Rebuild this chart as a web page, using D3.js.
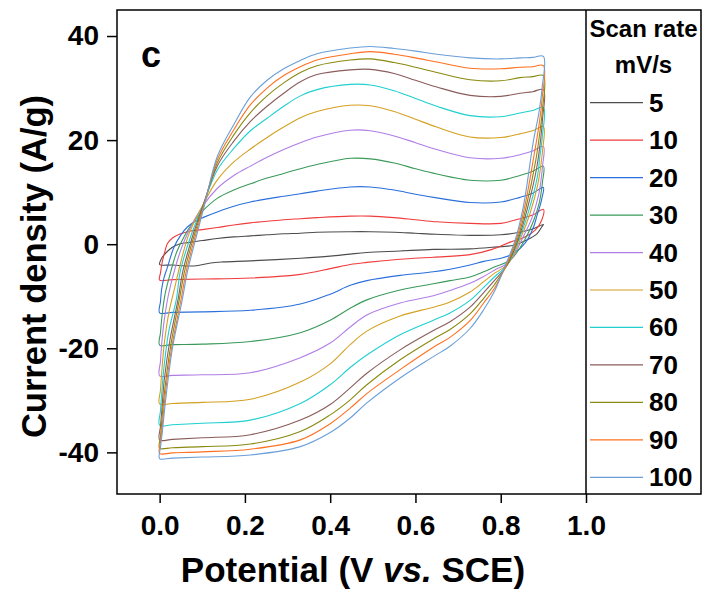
<!DOCTYPE html>
<html><head><meta charset="utf-8">
<script src="https://cdn.jsdelivr.net/npm/d3@7"></script>
<style>
body{margin:0;background:#fff}
svg{display:block}
text{font-family:"Liberation Sans",Arial,sans-serif;font-weight:bold;fill:#000}
</style>
</head><body>
<svg id="chart" width="704" height="590"></svg>
<script>
// ---- data: scan rates (mV/s), forward (anodic) and reverse (cathodic) branches [V, A/g]
const scanRates = [5,10,20,30,40,50,60,70,80,90,100];

const forward5 = [[0,-3.9],[0.003,-3.0],[0.008,-2.3],[0.018,-1.4],[0.03,-0.6],[0.045,0],[0.065,0.3],[0.1,0.7],[0.135,1.1],[0.174,1.4],[0.213,1.6],[0.252,1.8],[0.291,2.0],[0.33,2.1],[0.369,2.3],[0.447,2.4],[0.494,2.4],[0.55,2.3],[0.6,2.1],[0.65,1.9],[0.728,1.7],[0.8,1.8],[0.845,2.3],[0.875,2.9],[0.9,3.8]];
const reverse5 = [[0.9,3.8],[0.896,3.3],[0.885,2.0],[0.861,0.8],[0.83,-0.2],[0.78,-0.6],[0.728,-0.9],[0.642,-1.0],[0.564,-1.3],[0.486,-1.6],[0.447,-1.9],[0.4,-2.3],[0.33,-2.7],[0.213,-3.2],[0.15,-3.4],[0.12,-3.6],[0.09,-4.1],[0.07,-4.2],[0.03,-4.0]];

const forward10 = [[0,-6.9],[0.002,-5.5],[0.006,-3.5],[0.012,-1.5],[0.018,0.1],[0.03,1.2],[0.049,2.0],[0.07,2.5],[0.1,2.8],[0.135,3.2],[0.174,3.7],[0.213,4.1],[0.252,4.4],[0.291,4.7],[0.33,4.9],[0.369,5.1],[0.447,5.4],[0.494,5.4],[0.55,5.1],[0.6,4.7],[0.65,4.3],[0.728,4.0],[0.8,4.0],[0.845,4.9],[0.875,5.6],[0.9,6.7]];
const reverse10 = [[0.9,6.7],[0.896,4.6],[0.881,2.7],[0.857,1.4],[0.822,0.4],[0.78,-1.0],[0.728,-2.0],[0.642,-2.5],[0.564,-2.9],[0.486,-3.5],[0.447,-3.9],[0.4,-4.7],[0.33,-5.8],[0.213,-6.5],[0.1,-6.7],[0.03,-6.8]];

const forward20 = [[0,-13.2],[0.002,-11],[0.005,-8.5],[0.01,-6.5],[0.018,-4.5],[0.034,-0.5],[0.05,1.8],[0.065,3.3],[0.085,4.5],[0.104,5.2],[0.135,6.2],[0.174,7.3],[0.213,8.1],[0.252,8.7],[0.291,9.2],[0.33,9.7],[0.369,10.2],[0.447,11.0],[0.494,11.0],[0.55,10.4],[0.6,9.6],[0.65,8.9],[0.728,8.0],[0.8,8.1],[0.845,9.0],[0.875,9.8],[0.9,10.9]];
const reverse20 = [[0.9,10.9],[0.897,9],[0.892,7.3],[0.885,5.5],[0.877,3.3],[0.858,0.3],[0.83,-1.8],[0.8,-2.7],[0.76,-3.3],[0.728,-4.0],[0.681,-4.8],[0.642,-5.3],[0.564,-6.0],[0.486,-7.0],[0.447,-7.9],[0.4,-9.6],[0.33,-11.5],[0.213,-12.7],[0.1,-13.0],[0.03,-13.1]];

const forward30 = [[0,-19.4],[0.002,-17],[0.006,-13.5],[0.013,-9.5],[0.027,-5],[0.04,-1.5],[0.057,1.4],[0.075,3.8],[0.1,6.3],[0.135,8.8],[0.174,10.4],[0.213,11.6],[0.252,12.7],[0.291,13.6],[0.33,14.5],[0.369,15.3],[0.447,16.5],[0.494,16.4],[0.55,15.6],[0.6,14.5],[0.65,13.5],[0.728,12.3],[0.8,12.3],[0.845,13.2],[0.875,14.0],[0.9,15.0]];
const reverse30 = [[0.9,15.0],[0.898,12],[0.894,9.5],[0.889,7.5],[0.877,4.5],[0.856,0.8],[0.823,-3],[0.785,-4.4],[0.76,-5.3],[0.728,-6.3],[0.681,-7.0],[0.642,-7.6],[0.564,-8.8],[0.486,-10.7],[0.447,-12.3],[0.4,-14.6],[0.33,-17.0],[0.213,-18.7],[0.1,-19.2],[0.03,-19.3]];

const forward40 = [[0,-25.3],[0.002,-22.5],[0.005,-19],[0.011,-14.5],[0.02,-10],[0.035,-5],[0.05,-1],[0.068,2.5],[0.1,7.2],[0.135,10.7],[0.174,13.2],[0.213,15.0],[0.252,16.7],[0.291,18.2],[0.33,19.5],[0.369,20.6],[0.447,21.9],[0.494,21.8],[0.55,20.8],[0.6,19.5],[0.65,18.2],[0.728,16.6],[0.8,16.5],[0.845,17.2],[0.875,17.9],[0.9,18.8]];
const reverse40 = [[0.9,18.8],[0.898,15],[0.894,12],[0.889,9.5],[0.873,5],[0.852,1.3],[0.82,-3.4],[0.785,-5.0],[0.76,-6.2],[0.728,-7.5],[0.681,-8.9],[0.642,-9.9],[0.564,-11.3],[0.486,-13.6],[0.447,-15.9],[0.4,-19.0],[0.33,-21.8],[0.213,-24.7],[0.1,-25.1],[0.03,-25.2]];

const forward50 = [[0,-30.7],[0.002,-28],[0.005,-24.5],[0.011,-19],[0.022,-13],[0.035,-8.5],[0.048,-4],[0.068,1.8],[0.1,7.3],[0.135,12.3],[0.174,15.8],[0.213,18.3],[0.252,20.5],[0.291,22.5],[0.33,24.3],[0.369,25.5],[0.447,26.7],[0.494,26.6],[0.55,25.5],[0.6,24.0],[0.65,22.5],[0.728,20.6],[0.8,20.5],[0.845,21.2],[0.875,21.8],[0.9,22.6]];
const reverse50 = [[0.9,22.6],[0.898,18],[0.893,14.5],[0.887,11.5],[0.869,6],[0.849,1.6],[0.817,-3.8],[0.785,-5.6],[0.76,-7.2],[0.728,-9.2],[0.681,-11.1],[0.642,-12.1],[0.564,-13.8],[0.486,-16.7],[0.447,-19.3],[0.4,-23.0],[0.33,-26.5],[0.213,-29.8],[0.1,-30.4],[0.03,-30.6]];

const forward60 = [[0,-34.8],[0.002,-32],[0.005,-28.5],[0.011,-23],[0.022,-16.5],[0.039,-10.7],[0.049,-5],[0.075,2],[0.1,7.1],[0.135,14.2],[0.174,18.4],[0.213,21.8],[0.252,24.2],[0.291,26.5],[0.33,28.5],[0.369,29.7],[0.447,30.7],[0.494,30.6],[0.55,29.5],[0.6,28.0],[0.65,26.5],[0.728,24.7],[0.8,24.5],[0.845,25.2],[0.875,25.7],[0.9,26.3]];
const reverse60 = [[0.9,26.3],[0.898,21],[0.892,17],[0.886,13],[0.866,6.5],[0.846,1.6],[0.815,-4.0],[0.785,-6.3],[0.76,-8.3],[0.728,-10.8],[0.681,-13.2],[0.642,-14.6],[0.564,-17.4],[0.486,-21.3],[0.447,-23.7],[0.4,-27.0],[0.33,-30.6],[0.213,-33.8],[0.1,-34.4],[0.03,-34.7]];

const forward70 = [[0,-37.6],[0.002,-35],[0.005,-32],[0.011,-26],[0.024,-18.5],[0.043,-10.7],[0.055,-5],[0.079,2],[0.1,7.0],[0.135,15.0],[0.174,19.8],[0.213,23.6],[0.252,26.5],[0.291,29.0],[0.33,31.2],[0.369,32.6],[0.447,33.5],[0.494,33.6],[0.55,32.8],[0.6,31.5],[0.65,30.2],[0.728,28.6],[0.8,28.4],[0.845,29.0],[0.875,29.3],[0.9,29.7]];
const reverse70 = [[0.9,29.7],[0.898,24],[0.892,19],[0.884,14.5],[0.863,7],[0.843,1.4],[0.813,-4.3],[0.785,-7.0],[0.76,-9.3],[0.728,-12.1],[0.681,-14.9],[0.642,-16.6],[0.564,-20.3],[0.486,-24.8],[0.447,-27.6],[0.4,-30.8],[0.33,-33.8],[0.213,-36.6],[0.1,-37.2],[0.03,-37.5]];

const forward80 = [[0,-39.2],[0.002,-37],[0.005,-34],[0.012,-28],[0.026,-19.5],[0.046,-10.7],[0.059,-5],[0.082,2],[0.103,7.4],[0.135,15.6],[0.174,21.0],[0.213,25.3],[0.252,28.5],[0.291,31.0],[0.33,33.0],[0.369,34.3],[0.447,35.4],[0.494,35.6],[0.55,34.9],[0.6,34.0],[0.65,33.0],[0.728,31.6],[0.8,31.4],[0.845,32.0],[0.875,32.2],[0.9,32.4]];
const reverse80 = [[0.9,32.4],[0.898,26],[0.891,21],[0.882,16],[0.86,7.3],[0.84,1.2],[0.811,-4.5],[0.785,-7.8],[0.76,-10.4],[0.728,-13.4],[0.681,-16.4],[0.642,-18.2],[0.564,-22.2],[0.486,-27.0],[0.447,-29.9],[0.4,-32.8],[0.33,-36.0],[0.213,-38.4],[0.1,-38.9],[0.03,-39.1]];

const forward90 = [[0,-40.2],[0.002,-38],[0.006,-35],[0.013,-29],[0.028,-20],[0.05,-10.7],[0.063,-5],[0.085,2],[0.105,7.8],[0.135,16.2],[0.174,22.0],[0.213,26.8],[0.252,30.0],[0.291,32.4],[0.33,34.1],[0.369,35.4],[0.447,36.6],[0.494,37.0],[0.55,36.5],[0.6,35.8],[0.65,35.0],[0.728,33.8],[0.8,33.7],[0.845,34.0],[0.875,34.1],[0.9,34.3]];
const reverse90 = [[0.9,34.3],[0.897,28],[0.89,23],[0.88,18],[0.857,7.5],[0.837,1],[0.809,-4.7],[0.785,-8.5],[0.76,-11.3],[0.728,-14.7],[0.681,-17.9],[0.642,-19.8],[0.564,-24.1],[0.486,-28.7],[0.447,-31.5],[0.4,-34.5],[0.33,-37.6],[0.213,-39.4],[0.1,-39.9],[0.03,-40.1]];

const forward100 = [[0,-41.2],[0.002,-39],[0.006,-36.3],[0.014,-30],[0.03,-20],[0.053,-10.7],[0.066,-5],[0.088,2.1],[0.108,8.4],[0.135,16.8],[0.174,23.0],[0.213,28.3],[0.252,31.5],[0.291,33.7],[0.33,35.3],[0.369,36.6],[0.447,37.7],[0.494,38.0],[0.55,37.6],[0.6,37.1],[0.65,36.5],[0.728,35.8],[0.8,35.6],[0.845,35.8],[0.875,35.9],[0.9,36.1]];
const reverse100 = [[0.9,36.1],[0.897,30],[0.889,25],[0.877,20],[0.853,7.2],[0.834,0.8],[0.806,-5],[0.785,-9.1],[0.76,-12.6],[0.728,-16.2],[0.681,-19.6],[0.642,-21.6],[0.564,-25.7],[0.486,-30.5],[0.447,-33.4],[0.4,-36.2],[0.33,-38.9],[0.213,-40.5],[0.1,-40.9],[0.03,-41.1]];

const forwardBranches = [forward5,forward10,forward20,forward30,forward40,forward50,forward60,forward70,forward80,forward90,forward100];
const reverseBranches = [reverse5,reverse10,reverse20,reverse30,reverse40,reverse50,reverse60,reverse70,reverse80,reverse90,reverse100];

const xTickValues = [0.0,0.2,0.4,0.6,0.8,1.0];
const yTickValues = [-40,-20,0,20,40];
const legendTitle = ["Scan rate","mV/s"];
const panelLabel = "c";

// ---- styles
const colors = ["#4d4d4d","#f03c3c","#2a6fdb","#3a9a5a","#b07ee6","#d4a020","#20cfd0","#8a5c5c","#8a8a10","#ff7020","#6a9fd8"];

const svg = d3.select("#chart");
const mLeft = 117, mRight = 586, mTop = 10, mBottom = 494, boxRight = 701;
const x = d3.scaleLinear().domain([-0.1, 1.0]).range([mLeft, mRight]);
const y = d3.scaleLinear().domain([-48, 45]).range([mBottom, mTop]);

// curves
const line = d3.line().x(d => x(d[0])).y(d => y(d[1])).curve(d3.curveCatmullRomClosed.alpha(0.5));
const gCurves = svg.append("g");
scanRates.forEach((r, i) => {
  const pts = forwardBranches[i].concat(reverseBranches[i].slice(1));
  gCurves.append("path").attr("d", line(pts)).attr("fill","none")
    .attr("stroke", colors[i]).attr("stroke-width", 1.1);
});

// axes
const xAxis = d3.axisBottom(x).tickValues(xTickValues).tickSize(9).tickPadding(12)
  .tickFormat(d => d.toFixed(1));
const gx = svg.append("g").attr("transform", `translate(0,${mBottom})`).call(xAxis);
gx.select(".domain").remove();
gx.selectAll("line").attr("stroke","#000").attr("stroke-width",1.5);
gx.selectAll("text").attr("font-size",28).attr("font-family",null).style("font-weight","bold");

const yAxis = d3.axisLeft(y).tickValues(yTickValues).tickSize(10).tickPadding(8)
  .tickFormat(d => String(d));
const gy = svg.append("g").attr("transform", `translate(${mLeft},0)`).call(yAxis);
gy.select(".domain").remove();
gy.selectAll("line").attr("stroke","#000").attr("stroke-width",1.5);
gy.selectAll("text").attr("font-size",28).attr("font-family",null).style("font-weight","bold");

// frame
svg.append("rect").attr("x",mLeft).attr("y",mTop).attr("width",boxRight-mLeft).attr("height",mBottom-mTop)
  .attr("fill","none").attr("stroke","#000").attr("stroke-width",1.5);
svg.append("line").attr("x1",mRight).attr("x2",mRight).attr("y1",mTop).attr("y2",mBottom)
  .attr("stroke","#000").attr("stroke-width",1.5);

// panel label
svg.append("text").attr("x",141).attr("y",67).attr("font-size",36).text(panelLabel);

// axis titles
svg.append("text").attr("x",353).attr("y",582).attr("text-anchor","middle").attr("font-size",35)
  .call(t => {
    t.append("tspan").text("Potential (V ");
    t.append("tspan").attr("font-style","italic").text("vs.");
    t.append("tspan").text(" SCE)");
  });
svg.append("text").attr("transform","translate(46,266.5) rotate(-90)").attr("text-anchor","middle")
  .attr("font-size",34.5).text("Current density (A/g)");

// legend
const lx = (mRight + boxRight) / 2;
svg.append("text").attr("x",lx).attr("y",37).attr("text-anchor","middle").attr("font-size",24).text(legendTitle[0]);
svg.append("text").attr("x",lx).attr("y",73).attr("text-anchor","middle").attr("font-size",24).text(legendTitle[1]);
const ly = d3.scalePoint().domain(scanRates).range([102.7, 477.3]);
const gl = svg.append("g");
scanRates.forEach((r, i) => {
  gl.append("line").attr("x1",590).attr("x2",643).attr("y1",ly(r)).attr("y2",ly(r))
    .attr("stroke",colors[i]).attr("stroke-width",1.2);
  gl.append("text").attr("x",649).attr("y",ly(r)+9).attr("font-size",26).text(r);
});
</script>
</body></html>
